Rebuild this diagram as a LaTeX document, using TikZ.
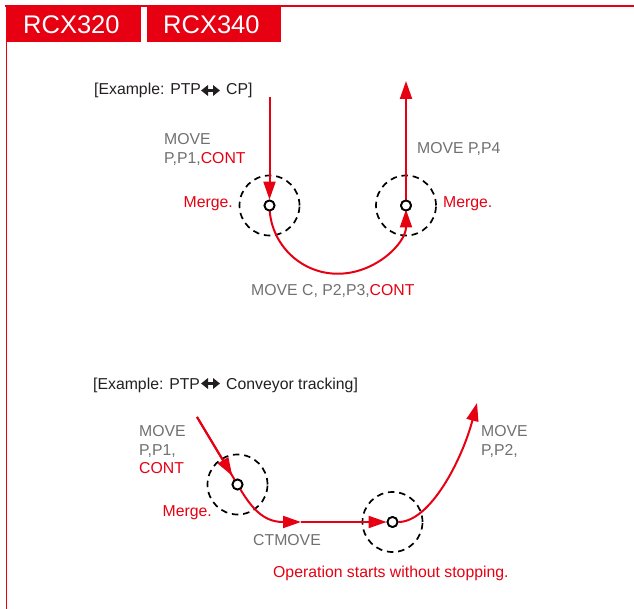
\documentclass[tikz,border=0pt]{standalone}
\usepackage{fontspec}
\setmainfont{Liberation Sans}
\usetikzlibrary{arrows.meta,calc}
\definecolor{ored}{HTML}{E60012}
\definecolor{tgray}{RGB}{112,112,112}
\definecolor{tblack}{HTML}{231F20}
\tikzset{
  lbl/.style={inner sep=0pt, anchor=base west, font=\fontsize{15.8}{19}\selectfont},
  lble/.style={lbl, anchor=base east},
  graytxt/.style={lbl, text=tgray},
  redtxt/.style={lbl, text=ored},
  blacktxt/.style={lbl, text=tblack},
  tabtxt/.style={inner sep=0pt, anchor=base west, text=white, font=\fontsize{25.5}{30}\selectfont},
  rl/.style={draw=ored, line width=2pt},
  rarrow/.style={rl, -{Triangle[length=18pt,width=12pt]}},
  zone/.style={circle, draw=black, line width=1.7pt, dash pattern=on 6.5pt off 4.8pt, minimum size=60pt, inner sep=0pt},
  pt/.style={circle, draw=black, fill=white, line width=1.8pt, minimum size=10pt, inner sep=0pt},
  dblarrow/.style={draw=tblack, line width=3.6pt, {Triangle[length=7pt,width=10.5pt]}-{Triangle[length=7pt,width=10.5pt]}}
}
\begin{document}
\begin{tikzpicture}[x=1pt,y=-1pt]
\useasboundingbox (0,0) rectangle (634,609);
% frame and tabs
\fill[ored] (6,5) rectangle (141,42);
\fill[ored] (147,5) rectangle (281,42);
\draw[ored, line width=2pt] (5,6) -- (634,6);
\draw[ored, line width=1.8pt] (6.5,5) -- (6.5,609);
\node[tabtxt] (tab1) at (23,34) {RCX320};
\node[tabtxt] (tab2) at (163,34) {RCX340};

% ---------- upper example ----------
\node[blacktxt] (ex1a) at (94,95) {[Example: PTP};
\node[blacktxt] (ex1b) at (226,95) {CP]};
\coordinate (ex1l) at (201,90.5);
\coordinate (ex1r) at (220,90.5);
\draw[dblarrow] (ex1l) -- (ex1r);

\node[zone] (z1) at (269.5,205.5) {};
\node[zone] (z2) at (406,205.5) {};
\node[pt] (c1) at (269.5,205.5) {};
\node[pt] (c2) at (406,205.5) {};

\coordinate (s1) at (269.5,97);
\coordinate (e2) at (406,81);
\draw[rarrow] (s1) -- (c1.north);
\draw[rarrow] (c2.north) -- (e2);
\draw[rarrow, shorten >=4pt] (c1.center) arc[start angle=180, end angle=0, radius=68.25];
\node[pt] at (c1) {};
\node[pt] at (c2) {};

\node[graytxt] (mv1a) at (164,145) {MOVE};
\node[graytxt] (mv1b) at (164,164) {P,P1,\textcolor{ored}{CONT}};
\node[lble, text=ored] (mg1) at (233,208) {Merge.};
\node[redtxt] (mg2) at (443,208) {Merge.};
\node[graytxt] (mv2) at (417,154) {MOVE P,P4};
\node[graytxt] (mv3) at (251,296) {MOVE C, P2,P3,\textcolor{ored}{CONT}};

% ---------- lower example ----------
\node[blacktxt] (ex2a) at (93,389) {[Example: PTP};
\node[blacktxt] (ex2b) at (226,389) {Conveyor tracking]};
\coordinate (ex2l) at (201,383.5);
\coordinate (ex2r) at (220,383.5);
\draw[dblarrow] (ex2l) -- (ex2r);

\node[zone] (z3) at (237.5,484.5) {};
\node[zone] (z4) at (392.5,522) {};
\node[pt] (c3) at (237.5,484.5) {};
\node[pt] (c4) at (392.5,522) {};

\coordinate (s3) at (197,417);
\coordinate (h0) at (283,522);
\coordinate (h1) at (301,522);
\coordinate (e4) at (477,403);
\draw[rl] (s3) -- (c3.center);
\draw[rarrow] (s3) -- ($(s3)!0.87!(c3.center)$);
\draw[rl] (c3.center) .. controls (250,506) and (262,522) .. (h0);
\draw[rarrow] (h0) -- (h1);
\draw[rarrow] (h1) -- (c4.west);
\draw[rarrow] (c4.east) .. controls (430,522) and (462,460) .. (e4);
\node[pt] at (c3) {};
\node[pt] at (c4) {};

\node[graytxt] (mv4a) at (139,436) {MOVE};
\node[graytxt] (mv4b) at (139,455) {P,P1,};
\node[redtxt] (mv4c) at (139,473) {CONT};
\node[lble, text=ored] (mg3) at (212,516) {Merge.};
\node[graytxt] (ct) at (253,545.5) {CTMOVE};
\node[graytxt] (mv5a) at (481,436) {MOVE};
\node[graytxt] (mv5b) at (481,455) {P,P2,};
\node[redtxt] (op) at (273,577) {Operation starts without stopping.};
\end{tikzpicture}
\end{document}
